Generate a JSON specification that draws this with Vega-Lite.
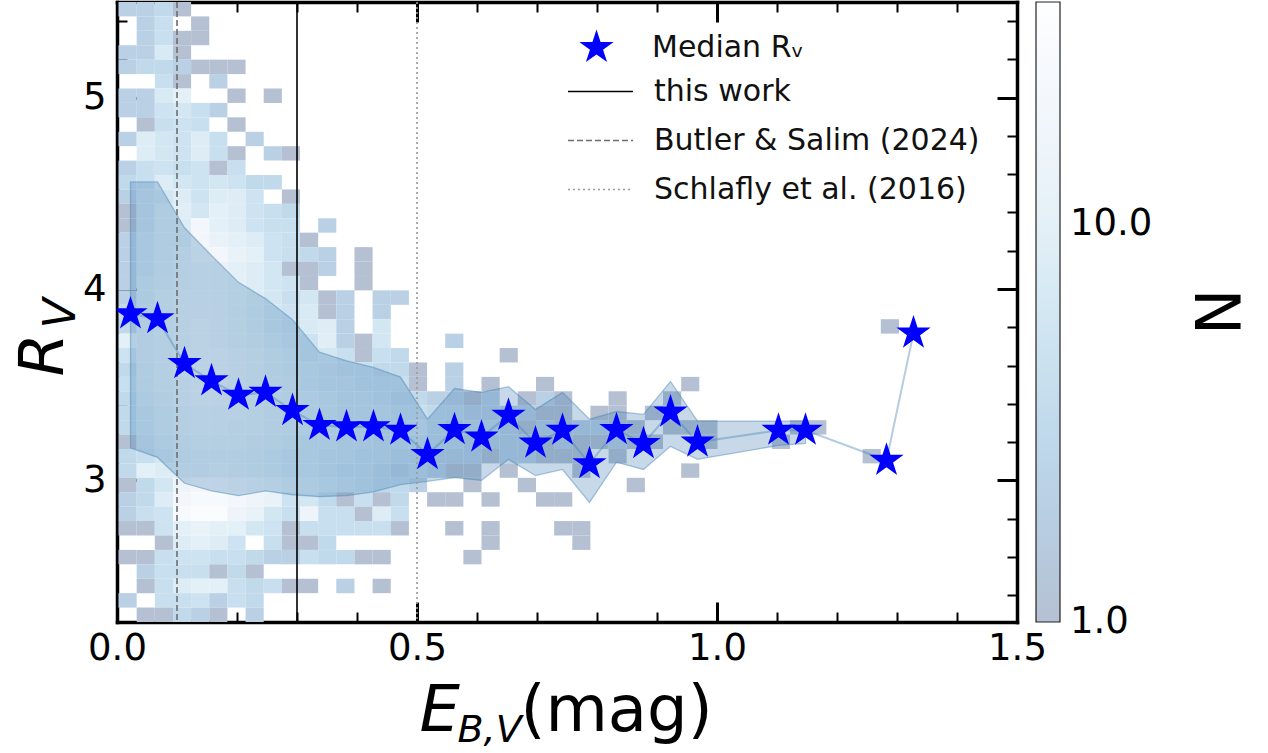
{
  "$schema": "https://vega.github.io/schema/vega-lite/v6.json",
  "background": "white",
  "autosize": {"type": "none"},
  "padding": {"left": 117, "top": 2, "right": 251, "bottom": 131},
  "width": 900,
  "height": 620,
  "config": {
    "font": "DejaVu Sans",
    "view": {"stroke": null},
    "axis": {"labelFont": "DejaVu Sans", "titleFont": "DejaVu Sans", "labelColor": "black", "titleColor": "black", "tickColor": "black", "domainColor": "black", "grid": false, "zindex": 2, "titleFontWeight": "normal"},
    "legend": {"labelFont": "DejaVu Sans", "titleFont": "DejaVu Sans", "labelColor": "#111111", "titleColor": "black"}
  },
  "datasets": {
    "med": [
      {"x": 0.0225, "med": 3.87, "lo": 3.17, "hi": 4.56},
      {"x": 0.0675, "med": 3.845, "lo": 3.12, "hi": 4.56},
      {"x": 0.1125, "med": 3.61, "lo": 2.985, "hi": 4.32},
      {"x": 0.1575, "med": 3.52, "lo": 2.945, "hi": 4.175},
      {"x": 0.2025, "med": 3.445, "lo": 2.92, "hi": 4.035},
      {"x": 0.2475, "med": 3.46, "lo": 2.945, "hi": 3.95},
      {"x": 0.2925, "med": 3.365, "lo": 2.925, "hi": 3.84},
      {"x": 0.3375, "med": 3.287, "lo": 2.915, "hi": 3.67},
      {"x": 0.3825, "med": 3.28, "lo": 2.92, "hi": 3.625},
      {"x": 0.4275, "med": 3.28, "lo": 2.94, "hi": 3.59},
      {"x": 0.4725, "med": 3.262, "lo": 2.978, "hi": 3.54},
      {"x": 0.5175, "med": 3.135, "lo": 2.995, "hi": 3.32},
      {"x": 0.5625, "med": 3.265, "lo": 3.015, "hi": 3.48},
      {"x": 0.6075, "med": 3.226, "lo": 3.0, "hi": 3.46},
      {"x": 0.6525, "med": 3.34, "lo": 3.11, "hi": 3.49},
      {"x": 0.6975, "med": 3.195, "lo": 3.025, "hi": 3.37},
      {"x": 0.7425, "med": 3.262, "lo": 3.057, "hi": 3.46},
      {"x": 0.7875, "med": 3.087, "lo": 2.885, "hi": 3.32},
      {"x": 0.8325, "med": 3.265, "lo": 3.095, "hi": 3.36},
      {"x": 0.8775, "med": 3.192, "lo": 3.057, "hi": 3.345},
      {"x": 0.9225, "med": 3.357, "lo": 3.178, "hi": 3.517},
      {"x": 0.9675, "med": 3.2, "lo": 3.11, "hi": 3.31},
      {"x": 1.1025, "med": 3.262, "lo": 3.183, "hi": 3.31},
      {"x": 1.1475, "med": 3.262, "lo": 3.193, "hi": 3.31},
      {"x": 1.2825, "med": 3.105, "lo": null, "hi": null},
      {"x": 1.3275, "med": 3.77, "lo": null, "hi": null}
    ],
    "cells": [
      {"a":0.0025,"b":0.0328,"c":5.4247,"d":5.5,"n":2},{"a":0.0328,"b":0.063,"c":5.4247,"d":5.5,"n":2},{"a":0.063,"b":0.0933,"c":5.4247,"d":5.5,"n":3},{"a":0.0933,"b":0.1235,"c":5.4247,"d":5.5,"n":1},
      {"a":0.0328,"b":0.063,"c":5.3494,"d":5.4247,"n":2},{"a":0.063,"b":0.0933,"c":5.3494,"d":5.4247,"n":4},{"a":0.1235,"b":0.1538,"c":5.3494,"d":5.4247,"n":1},
      {"a":0.0328,"b":0.063,"c":5.274,"d":5.3494,"n":2},{"a":0.063,"b":0.0933,"c":5.274,"d":5.3494,"n":4},{"a":0.0933,"b":0.1235,"c":5.274,"d":5.3494,"n":1},{"a":0.1235,"b":0.1538,"c":5.274,"d":5.3494,"n":1},
      {"a":0.0025,"b":0.0328,"c":5.1987,"d":5.274,"n":2},{"a":0.0328,"b":0.063,"c":5.1987,"d":5.274,"n":2},{"a":0.063,"b":0.0933,"c":5.1987,"d":5.274,"n":7},{"a":0.0933,"b":0.1235,"c":5.1987,"d":5.274,"n":1},
      {"a":0.0025,"b":0.0328,"c":5.1233,"d":5.1987,"n":2},{"a":0.0328,"b":0.063,"c":5.1233,"d":5.1987,"n":3},{"a":0.063,"b":0.0933,"c":5.1233,"d":5.1987,"n":3},{"a":0.0933,"b":0.1235,"c":5.1233,"d":5.1987,"n":2},{"a":0.1235,"b":0.1538,"c":5.1233,"d":5.1987,"n":1},{"a":0.1538,"b":0.184,"c":5.1233,"d":5.1987,"n":1},{"a":0.184,"b":0.2143,"c":5.1233,"d":5.1987,"n":1},
      {"a":0.063,"b":0.0933,"c":5.048,"d":5.1233,"n":4},{"a":0.0933,"b":0.1235,"c":5.048,"d":5.1233,"n":1},{"a":0.1538,"b":0.184,"c":5.048,"d":5.1233,"n":2},
      {"a":0.0025,"b":0.0328,"c":4.9726,"d":5.048,"n":2},{"a":0.0328,"b":0.063,"c":4.9726,"d":5.048,"n":2},{"a":0.063,"b":0.0933,"c":4.9726,"d":5.048,"n":7},{"a":0.0933,"b":0.1235,"c":4.9726,"d":5.048,"n":10},{"a":0.184,"b":0.2143,"c":4.9726,"d":5.048,"n":1},{"a":0.2445,"b":0.2748,"c":4.9726,"d":5.048,"n":1},
      {"a":0.0025,"b":0.0328,"c":4.8973,"d":4.9726,"n":2},{"a":0.0328,"b":0.063,"c":4.8973,"d":4.9726,"n":2},{"a":0.063,"b":0.0933,"c":4.8973,"d":4.9726,"n":5},{"a":0.0933,"b":0.1235,"c":4.8973,"d":4.9726,"n":6},{"a":0.1235,"b":0.1538,"c":4.8973,"d":4.9726,"n":4},{"a":0.1538,"b":0.184,"c":4.8973,"d":4.9726,"n":2},
      {"a":0.0328,"b":0.063,"c":4.8219,"d":4.8973,"n":1},{"a":0.063,"b":0.0933,"c":4.8219,"d":4.8973,"n":4},{"a":0.0933,"b":0.1235,"c":4.8219,"d":4.8973,"n":5},{"a":0.1235,"b":0.1538,"c":4.8219,"d":4.8973,"n":4},{"a":0.184,"b":0.2143,"c":4.8219,"d":4.8973,"n":1},
      {"a":0.0025,"b":0.0328,"c":4.7466,"d":4.8219,"n":2},{"a":0.0328,"b":0.063,"c":4.7466,"d":4.8219,"n":8},{"a":0.063,"b":0.0933,"c":4.7466,"d":4.8219,"n":6},{"a":0.0933,"b":0.1235,"c":4.7466,"d":4.8219,"n":5},{"a":0.1235,"b":0.1538,"c":4.7466,"d":4.8219,"n":8},{"a":0.1538,"b":0.184,"c":4.7466,"d":4.8219,"n":4},{"a":0.2143,"b":0.2445,"c":4.7466,"d":4.8219,"n":2},
      {"a":0.0328,"b":0.063,"c":4.6712,"d":4.7466,"n":8},{"a":0.063,"b":0.0933,"c":4.6712,"d":4.7466,"n":6},{"a":0.0933,"b":0.1235,"c":4.6712,"d":4.7466,"n":5},{"a":0.1235,"b":0.1538,"c":4.6712,"d":4.7466,"n":8},{"a":0.1538,"b":0.184,"c":4.6712,"d":4.7466,"n":4},{"a":0.184,"b":0.2143,"c":4.6712,"d":4.7466,"n":1},{"a":0.2445,"b":0.2748,"c":4.6712,"d":4.7466,"n":2},{"a":0.2748,"b":0.305,"c":4.6712,"d":4.7466,"n":1},
      {"a":0.0025,"b":0.0328,"c":4.5959,"d":4.6712,"n":2},{"a":0.0328,"b":0.063,"c":4.5959,"d":4.6712,"n":4},{"a":0.063,"b":0.0933,"c":4.5959,"d":4.6712,"n":5},{"a":0.0933,"b":0.1235,"c":4.5959,"d":4.6712,"n":4},{"a":0.1235,"b":0.1538,"c":4.5959,"d":4.6712,"n":5},{"a":0.1538,"b":0.184,"c":4.5959,"d":4.6712,"n":1},{"a":0.184,"b":0.2143,"c":4.5959,"d":4.6712,"n":4},
      {"a":0.0025,"b":0.0328,"c":4.5205,"d":4.5959,"n":3},{"a":0.0328,"b":0.063,"c":4.5205,"d":4.5959,"n":4},{"a":0.063,"b":0.0933,"c":4.5205,"d":4.5959,"n":8},{"a":0.0933,"b":0.1235,"c":4.5205,"d":4.5959,"n":6},{"a":0.1235,"b":0.1538,"c":4.5205,"d":4.5959,"n":5},{"a":0.1538,"b":0.184,"c":4.5205,"d":4.5959,"n":6},{"a":0.184,"b":0.2143,"c":4.5205,"d":4.5959,"n":5},{"a":0.2143,"b":0.2445,"c":4.5205,"d":4.5959,"n":3},{"a":0.2445,"b":0.2748,"c":4.5205,"d":4.5959,"n":3},
      {"a":0.0025,"b":0.0328,"c":4.4452,"d":4.5205,"n":2},{"a":0.0328,"b":0.063,"c":4.4452,"d":4.5205,"n":5},{"a":0.063,"b":0.0933,"c":4.4452,"d":4.5205,"n":6},{"a":0.0933,"b":0.1235,"c":4.4452,"d":4.5205,"n":8},{"a":0.1235,"b":0.1538,"c":4.4452,"d":4.5205,"n":5},{"a":0.1538,"b":0.184,"c":4.4452,"d":4.5205,"n":8},{"a":0.184,"b":0.2143,"c":4.4452,"d":4.5205,"n":8},{"a":0.2143,"b":0.2445,"c":4.4452,"d":4.5205,"n":5},{"a":0.2748,"b":0.305,"c":4.4452,"d":4.5205,"n":1},
      {"a":0.0025,"b":0.0328,"c":4.3698,"d":4.4452,"n":1},{"a":0.0328,"b":0.063,"c":4.3698,"d":4.4452,"n":5},{"a":0.063,"b":0.0933,"c":4.3698,"d":4.4452,"n":8},{"a":0.0933,"b":0.1235,"c":4.3698,"d":4.4452,"n":9},{"a":0.1235,"b":0.1538,"c":4.3698,"d":4.4452,"n":6},{"a":0.1538,"b":0.184,"c":4.3698,"d":4.4452,"n":10},{"a":0.184,"b":0.2143,"c":4.3698,"d":4.4452,"n":8},{"a":0.2143,"b":0.2445,"c":4.3698,"d":4.4452,"n":5},{"a":0.2445,"b":0.2748,"c":4.3698,"d":4.4452,"n":4},{"a":0.2748,"b":0.305,"c":4.3698,"d":4.4452,"n":3},
      {"a":0.0025,"b":0.0328,"c":4.2945,"d":4.3698,"n":1},{"a":0.0328,"b":0.063,"c":4.2945,"d":4.3698,"n":5},{"a":0.063,"b":0.0933,"c":4.2945,"d":4.3698,"n":8},{"a":0.0933,"b":0.1235,"c":4.2945,"d":4.3698,"n":8},{"a":0.1235,"b":0.1538,"c":4.2945,"d":4.3698,"n":20},{"a":0.1538,"b":0.184,"c":4.2945,"d":4.3698,"n":10},{"a":0.184,"b":0.2143,"c":4.2945,"d":4.3698,"n":8},{"a":0.2143,"b":0.2445,"c":4.2945,"d":4.3698,"n":5},{"a":0.2445,"b":0.2748,"c":4.2945,"d":4.3698,"n":4},{"a":0.2748,"b":0.305,"c":4.2945,"d":4.3698,"n":4},{"a":0.3353,"b":0.3655,"c":4.2945,"d":4.3698,"n":2},
      {"a":0.0025,"b":0.0328,"c":4.2191,"d":4.2945,"n":2},{"a":0.0328,"b":0.063,"c":4.2191,"d":4.2945,"n":6},{"a":0.063,"b":0.0933,"c":4.2191,"d":4.2945,"n":8},{"a":0.0933,"b":0.1235,"c":4.2191,"d":4.2945,"n":8},{"a":0.1235,"b":0.1538,"c":4.2191,"d":4.2945,"n":20},{"a":0.1538,"b":0.184,"c":4.2191,"d":4.2945,"n":12},{"a":0.184,"b":0.2143,"c":4.2191,"d":4.2945,"n":10},{"a":0.2143,"b":0.2445,"c":4.2191,"d":4.2945,"n":8},{"a":0.2445,"b":0.2748,"c":4.2191,"d":4.2945,"n":5},{"a":0.2748,"b":0.305,"c":4.2191,"d":4.2945,"n":4},{"a":0.305,"b":0.3353,"c":4.2191,"d":4.2945,"n":1},
      {"a":0.0025,"b":0.0328,"c":4.1438,"d":4.2191,"n":2},{"a":0.0328,"b":0.063,"c":4.1438,"d":4.2191,"n":6},{"a":0.063,"b":0.0933,"c":4.1438,"d":4.2191,"n":8},{"a":0.0933,"b":0.1235,"c":4.1438,"d":4.2191,"n":10},{"a":0.1235,"b":0.1538,"c":4.1438,"d":4.2191,"n":15},{"a":0.1538,"b":0.184,"c":4.1438,"d":4.2191,"n":20},{"a":0.184,"b":0.2143,"c":4.1438,"d":4.2191,"n":12},{"a":0.2143,"b":0.2445,"c":4.1438,"d":4.2191,"n":10},{"a":0.2445,"b":0.2748,"c":4.1438,"d":4.2191,"n":5},{"a":0.2748,"b":0.305,"c":4.1438,"d":4.2191,"n":4},{"a":0.305,"b":0.3353,"c":4.1438,"d":4.2191,"n":3},{"a":0.3353,"b":0.3655,"c":4.1438,"d":4.2191,"n":2},{"a":0.3958,"b":0.426,"c":4.1438,"d":4.2191,"n":1},
      {"a":0.0025,"b":0.0328,"c":4.0684,"d":4.1438,"n":2},{"a":0.0328,"b":0.063,"c":4.0684,"d":4.1438,"n":6},{"a":0.063,"b":0.0933,"c":4.0684,"d":4.1438,"n":8},{"a":0.0933,"b":0.1235,"c":4.0684,"d":4.1438,"n":10},{"a":0.1235,"b":0.1538,"c":4.0684,"d":4.1438,"n":12},{"a":0.1538,"b":0.184,"c":4.0684,"d":4.1438,"n":12},{"a":0.184,"b":0.2143,"c":4.0684,"d":4.1438,"n":10},{"a":0.2143,"b":0.2445,"c":4.0684,"d":4.1438,"n":8},{"a":0.2445,"b":0.2748,"c":4.0684,"d":4.1438,"n":6},{"a":0.2748,"b":0.305,"c":4.0684,"d":4.1438,"n":1},{"a":0.305,"b":0.3353,"c":4.0684,"d":4.1438,"n":1},{"a":0.3353,"b":0.3655,"c":4.0684,"d":4.1438,"n":2},{"a":0.3958,"b":0.426,"c":4.0684,"d":4.1438,"n":1},
      {"a":0.0025,"b":0.0328,"c":3.9931,"d":4.0684,"n":2},{"a":0.0328,"b":0.063,"c":3.9931,"d":4.0684,"n":7},{"a":0.063,"b":0.0933,"c":3.9931,"d":4.0684,"n":9},{"a":0.0933,"b":0.1235,"c":3.9931,"d":4.0684,"n":10},{"a":0.1235,"b":0.1538,"c":3.9931,"d":4.0684,"n":12},{"a":0.1538,"b":0.184,"c":3.9931,"d":4.0684,"n":12},{"a":0.184,"b":0.2143,"c":3.9931,"d":4.0684,"n":10},{"a":0.2143,"b":0.2445,"c":3.9931,"d":4.0684,"n":8},{"a":0.2445,"b":0.2748,"c":3.9931,"d":4.0684,"n":6},{"a":0.2748,"b":0.305,"c":3.9931,"d":4.0684,"n":5},{"a":0.305,"b":0.3353,"c":3.9931,"d":4.0684,"n":1},{"a":0.3958,"b":0.426,"c":3.9931,"d":4.0684,"n":1},
      {"a":0.0025,"b":0.0328,"c":3.9177,"d":3.9931,"n":2},{"a":0.0328,"b":0.063,"c":3.9177,"d":3.9931,"n":7},{"a":0.063,"b":0.0933,"c":3.9177,"d":3.9931,"n":10},{"a":0.0933,"b":0.1235,"c":3.9177,"d":3.9931,"n":12},{"a":0.1235,"b":0.1538,"c":3.9177,"d":3.9931,"n":12},{"a":0.1538,"b":0.184,"c":3.9177,"d":3.9931,"n":12},{"a":0.184,"b":0.2143,"c":3.9177,"d":3.9931,"n":10},{"a":0.2143,"b":0.2445,"c":3.9177,"d":3.9931,"n":8},{"a":0.2445,"b":0.2748,"c":3.9177,"d":3.9931,"n":6},{"a":0.2748,"b":0.305,"c":3.9177,"d":3.9931,"n":4},{"a":0.305,"b":0.3353,"c":3.9177,"d":3.9931,"n":6},{"a":0.3353,"b":0.3655,"c":3.9177,"d":3.9931,"n":1},{"a":0.3655,"b":0.3958,"c":3.9177,"d":3.9931,"n":2},{"a":0.426,"b":0.4563,"c":3.9177,"d":3.9931,"n":2},{"a":0.4563,"b":0.4865,"c":3.9177,"d":3.9931,"n":2},
      {"a":0.0025,"b":0.0328,"c":3.8424,"d":3.9177,"n":3},{"a":0.0328,"b":0.063,"c":3.8424,"d":3.9177,"n":8},{"a":0.063,"b":0.0933,"c":3.8424,"d":3.9177,"n":10},{"a":0.0933,"b":0.1235,"c":3.8424,"d":3.9177,"n":12},{"a":0.1235,"b":0.1538,"c":3.8424,"d":3.9177,"n":12},{"a":0.1538,"b":0.184,"c":3.8424,"d":3.9177,"n":12},{"a":0.184,"b":0.2143,"c":3.8424,"d":3.9177,"n":10},{"a":0.2143,"b":0.2445,"c":3.8424,"d":3.9177,"n":8},{"a":0.2445,"b":0.2748,"c":3.8424,"d":3.9177,"n":6},{"a":0.2748,"b":0.305,"c":3.8424,"d":3.9177,"n":5},{"a":0.305,"b":0.3353,"c":3.8424,"d":3.9177,"n":7},{"a":0.3353,"b":0.3655,"c":3.8424,"d":3.9177,"n":1},{"a":0.3655,"b":0.3958,"c":3.8424,"d":3.9177,"n":2},{"a":0.426,"b":0.4563,"c":3.8424,"d":3.9177,"n":2},
      {"a":0.0025,"b":0.0328,"c":3.767,"d":3.8424,"n":3},{"a":0.0328,"b":0.063,"c":3.767,"d":3.8424,"n":8},{"a":0.063,"b":0.0933,"c":3.767,"d":3.8424,"n":10},{"a":0.0933,"b":0.1235,"c":3.767,"d":3.8424,"n":12},{"a":0.1235,"b":0.1538,"c":3.767,"d":3.8424,"n":15},{"a":0.1538,"b":0.184,"c":3.767,"d":3.8424,"n":12},{"a":0.184,"b":0.2143,"c":3.767,"d":3.8424,"n":10},{"a":0.2143,"b":0.2445,"c":3.767,"d":3.8424,"n":8},{"a":0.2445,"b":0.2748,"c":3.767,"d":3.8424,"n":6},{"a":0.2748,"b":0.305,"c":3.767,"d":3.8424,"n":5},{"a":0.305,"b":0.3353,"c":3.767,"d":3.8424,"n":7},{"a":0.3353,"b":0.3655,"c":3.767,"d":3.8424,"n":8},{"a":0.3655,"b":0.3958,"c":3.767,"d":3.8424,"n":2},{"a":0.426,"b":0.4563,"c":3.767,"d":3.8424,"n":6},
      {"a":0.0025,"b":0.0328,"c":3.6917,"d":3.767,"n":10},{"a":0.0328,"b":0.063,"c":3.6917,"d":3.767,"n":9},{"a":0.063,"b":0.0933,"c":3.6917,"d":3.767,"n":10},{"a":0.0933,"b":0.1235,"c":3.6917,"d":3.767,"n":12},{"a":0.1235,"b":0.1538,"c":3.6917,"d":3.767,"n":15},{"a":0.1538,"b":0.184,"c":3.6917,"d":3.767,"n":12},{"a":0.184,"b":0.2143,"c":3.6917,"d":3.767,"n":10},{"a":0.2143,"b":0.2445,"c":3.6917,"d":3.767,"n":9},{"a":0.2445,"b":0.2748,"c":3.6917,"d":3.767,"n":7},{"a":0.2748,"b":0.305,"c":3.6917,"d":3.767,"n":6},{"a":0.305,"b":0.3353,"c":3.6917,"d":3.767,"n":5},{"a":0.3353,"b":0.3655,"c":3.6917,"d":3.767,"n":9},{"a":0.3655,"b":0.3958,"c":3.6917,"d":3.767,"n":2},{"a":0.3958,"b":0.426,"c":3.6917,"d":3.767,"n":1},{"a":0.426,"b":0.4563,"c":3.6917,"d":3.767,"n":6},{"a":0.547,"b":0.5773,"c":3.6917,"d":3.767,"n":2},
      {"a":0.0025,"b":0.0328,"c":3.6163,"d":3.6917,"n":5},{"a":0.0328,"b":0.063,"c":3.6163,"d":3.6917,"n":9},{"a":0.063,"b":0.0933,"c":3.6163,"d":3.6917,"n":10},{"a":0.0933,"b":0.1235,"c":3.6163,"d":3.6917,"n":15},{"a":0.1235,"b":0.1538,"c":3.6163,"d":3.6917,"n":15},{"a":0.1538,"b":0.184,"c":3.6163,"d":3.6917,"n":15},{"a":0.184,"b":0.2143,"c":3.6163,"d":3.6917,"n":12},{"a":0.2143,"b":0.2445,"c":3.6163,"d":3.6917,"n":10},{"a":0.2445,"b":0.2748,"c":3.6163,"d":3.6917,"n":8},{"a":0.2748,"b":0.305,"c":3.6163,"d":3.6917,"n":7},{"a":0.305,"b":0.3353,"c":3.6163,"d":3.6917,"n":5},{"a":0.3353,"b":0.3655,"c":3.6163,"d":3.6917,"n":6},{"a":0.3655,"b":0.3958,"c":3.6163,"d":3.6917,"n":4},{"a":0.3958,"b":0.426,"c":3.6163,"d":3.6917,"n":1},{"a":0.426,"b":0.4563,"c":3.6163,"d":3.6917,"n":4},{"a":0.4563,"b":0.4865,"c":3.6163,"d":3.6917,"n":3},{"a":0.6378,"b":0.668,"c":3.6163,"d":3.6917,"n":1},
      {"a":0.0025,"b":0.0328,"c":3.541,"d":3.6163,"n":3},{"a":0.0328,"b":0.063,"c":3.541,"d":3.6163,"n":8},{"a":0.063,"b":0.0933,"c":3.541,"d":3.6163,"n":10},{"a":0.0933,"b":0.1235,"c":3.541,"d":3.6163,"n":15},{"a":0.1235,"b":0.1538,"c":3.541,"d":3.6163,"n":15},{"a":0.1538,"b":0.184,"c":3.541,"d":3.6163,"n":15},{"a":0.184,"b":0.2143,"c":3.541,"d":3.6163,"n":12},{"a":0.2143,"b":0.2445,"c":3.541,"d":3.6163,"n":10},{"a":0.2445,"b":0.2748,"c":3.541,"d":3.6163,"n":8},{"a":0.2748,"b":0.305,"c":3.541,"d":3.6163,"n":7},{"a":0.305,"b":0.3353,"c":3.541,"d":3.6163,"n":6},{"a":0.3353,"b":0.3655,"c":3.541,"d":3.6163,"n":5},{"a":0.3655,"b":0.3958,"c":3.541,"d":3.6163,"n":4},{"a":0.3958,"b":0.426,"c":3.541,"d":3.6163,"n":4},{"a":0.426,"b":0.4563,"c":3.541,"d":3.6163,"n":3},{"a":0.4563,"b":0.4865,"c":3.541,"d":3.6163,"n":3},{"a":0.4865,"b":0.5168,"c":3.541,"d":3.6163,"n":1},{"a":0.547,"b":0.5773,"c":3.541,"d":3.6163,"n":2},
      {"a":0.0025,"b":0.0328,"c":3.4656,"d":3.541,"n":4},{"a":0.0328,"b":0.063,"c":3.4656,"d":3.541,"n":8},{"a":0.063,"b":0.0933,"c":3.4656,"d":3.541,"n":10},{"a":0.0933,"b":0.1235,"c":3.4656,"d":3.541,"n":12},{"a":0.1235,"b":0.1538,"c":3.4656,"d":3.541,"n":15},{"a":0.1538,"b":0.184,"c":3.4656,"d":3.541,"n":15},{"a":0.184,"b":0.2143,"c":3.4656,"d":3.541,"n":12},{"a":0.2143,"b":0.2445,"c":3.4656,"d":3.541,"n":10},{"a":0.2445,"b":0.2748,"c":3.4656,"d":3.541,"n":9},{"a":0.2748,"b":0.305,"c":3.4656,"d":3.541,"n":8},{"a":0.305,"b":0.3353,"c":3.4656,"d":3.541,"n":6},{"a":0.3353,"b":0.3655,"c":3.4656,"d":3.541,"n":5},{"a":0.3655,"b":0.3958,"c":3.4656,"d":3.541,"n":5},{"a":0.3958,"b":0.426,"c":3.4656,"d":3.541,"n":4},{"a":0.426,"b":0.4563,"c":3.4656,"d":3.541,"n":4},{"a":0.4563,"b":0.4865,"c":3.4656,"d":3.541,"n":4},{"a":0.4865,"b":0.5168,"c":3.4656,"d":3.541,"n":1},{"a":0.547,"b":0.5773,"c":3.4656,"d":3.541,"n":2},{"a":0.6075,"b":0.6378,"c":3.4656,"d":3.541,"n":1},{"a":0.6983,"b":0.7285,"c":3.4656,"d":3.541,"n":1},{"a":0.9403,"b":0.9705,"c":3.4656,"d":3.541,"n":1},
      {"a":0.0025,"b":0.0328,"c":3.3903,"d":3.4656,"n":3},{"a":0.0328,"b":0.063,"c":3.3903,"d":3.4656,"n":7},{"a":0.063,"b":0.0933,"c":3.3903,"d":3.4656,"n":9},{"a":0.0933,"b":0.1235,"c":3.3903,"d":3.4656,"n":12},{"a":0.1235,"b":0.1538,"c":3.3903,"d":3.4656,"n":15},{"a":0.1538,"b":0.184,"c":3.3903,"d":3.4656,"n":15},{"a":0.184,"b":0.2143,"c":3.3903,"d":3.4656,"n":12},{"a":0.2143,"b":0.2445,"c":3.3903,"d":3.4656,"n":10},{"a":0.2445,"b":0.2748,"c":3.3903,"d":3.4656,"n":9},{"a":0.2748,"b":0.305,"c":3.3903,"d":3.4656,"n":8},{"a":0.305,"b":0.3353,"c":3.3903,"d":3.4656,"n":7},{"a":0.3353,"b":0.3655,"c":3.3903,"d":3.4656,"n":6},{"a":0.3655,"b":0.3958,"c":3.3903,"d":3.4656,"n":5},{"a":0.3958,"b":0.426,"c":3.3903,"d":3.4656,"n":5},{"a":0.426,"b":0.4563,"c":3.3903,"d":3.4656,"n":4},{"a":0.4563,"b":0.4865,"c":3.3903,"d":3.4656,"n":3},{"a":0.4865,"b":0.5168,"c":3.3903,"d":3.4656,"n":3},{"a":0.5168,"b":0.547,"c":3.3903,"d":3.4656,"n":2},{"a":0.547,"b":0.5773,"c":3.3903,"d":3.4656,"n":2},{"a":0.5773,"b":0.6075,"c":3.3903,"d":3.4656,"n":1},{"a":0.6075,"b":0.6378,"c":3.3903,"d":3.4656,"n":2},{"a":0.668,"b":0.6983,"c":3.3903,"d":3.4656,"n":1},{"a":0.6983,"b":0.7285,"c":3.3903,"d":3.4656,"n":2},{"a":0.7285,"b":0.7588,"c":3.3903,"d":3.4656,"n":1},{"a":0.8193,"b":0.8495,"c":3.3903,"d":3.4656,"n":1},{"a":0.91,"b":0.9403,"c":3.3903,"d":3.4656,"n":1},
      {"a":0.0025,"b":0.0328,"c":3.3149,"d":3.3903,"n":3},{"a":0.0328,"b":0.063,"c":3.3149,"d":3.3903,"n":6},{"a":0.063,"b":0.0933,"c":3.3149,"d":3.3903,"n":8},{"a":0.0933,"b":0.1235,"c":3.3149,"d":3.3903,"n":10},{"a":0.1235,"b":0.1538,"c":3.3149,"d":3.3903,"n":12},{"a":0.1538,"b":0.184,"c":3.3149,"d":3.3903,"n":12},{"a":0.184,"b":0.2143,"c":3.3149,"d":3.3903,"n":12},{"a":0.2143,"b":0.2445,"c":3.3149,"d":3.3903,"n":10},{"a":0.2445,"b":0.2748,"c":3.3149,"d":3.3903,"n":9},{"a":0.2748,"b":0.305,"c":3.3149,"d":3.3903,"n":8},{"a":0.305,"b":0.3353,"c":3.3149,"d":3.3903,"n":7},{"a":0.3353,"b":0.3655,"c":3.3149,"d":3.3903,"n":6},{"a":0.3655,"b":0.3958,"c":3.3149,"d":3.3903,"n":5},{"a":0.3958,"b":0.426,"c":3.3149,"d":3.3903,"n":5},{"a":0.426,"b":0.4563,"c":3.3149,"d":3.3903,"n":5},{"a":0.4563,"b":0.4865,"c":3.3149,"d":3.3903,"n":4},{"a":0.4865,"b":0.5168,"c":3.3149,"d":3.3903,"n":4},{"a":0.5168,"b":0.547,"c":3.3149,"d":3.3903,"n":3},{"a":0.547,"b":0.5773,"c":3.3149,"d":3.3903,"n":3},{"a":0.5773,"b":0.6075,"c":3.3149,"d":3.3903,"n":2},{"a":0.6075,"b":0.6378,"c":3.3149,"d":3.3903,"n":2},{"a":0.6378,"b":0.668,"c":3.3149,"d":3.3903,"n":2},{"a":0.668,"b":0.6983,"c":3.3149,"d":3.3903,"n":2},{"a":0.6983,"b":0.7285,"c":3.3149,"d":3.3903,"n":1},{"a":0.7285,"b":0.7588,"c":3.3149,"d":3.3903,"n":1},{"a":0.789,"b":0.8193,"c":3.3149,"d":3.3903,"n":1},{"a":0.8193,"b":0.8495,"c":3.3149,"d":3.3903,"n":1},{"a":0.8798,"b":0.91,"c":3.3149,"d":3.3903,"n":1},
      {"a":0.0025,"b":0.0328,"c":3.2396,"d":3.3149,"n":3},{"a":0.0328,"b":0.063,"c":3.2396,"d":3.3149,"n":6},{"a":0.063,"b":0.0933,"c":3.2396,"d":3.3149,"n":8},{"a":0.0933,"b":0.1235,"c":3.2396,"d":3.3149,"n":10},{"a":0.1235,"b":0.1538,"c":3.2396,"d":3.3149,"n":12},{"a":0.1538,"b":0.184,"c":3.2396,"d":3.3149,"n":12},{"a":0.184,"b":0.2143,"c":3.2396,"d":3.3149,"n":10},{"a":0.2143,"b":0.2445,"c":3.2396,"d":3.3149,"n":10},{"a":0.2445,"b":0.2748,"c":3.2396,"d":3.3149,"n":9},{"a":0.2748,"b":0.305,"c":3.2396,"d":3.3149,"n":8},{"a":0.305,"b":0.3353,"c":3.2396,"d":3.3149,"n":7},{"a":0.3353,"b":0.3655,"c":3.2396,"d":3.3149,"n":6},{"a":0.3655,"b":0.3958,"c":3.2396,"d":3.3149,"n":6},{"a":0.3958,"b":0.426,"c":3.2396,"d":3.3149,"n":5},{"a":0.426,"b":0.4563,"c":3.2396,"d":3.3149,"n":4},{"a":0.4563,"b":0.4865,"c":3.2396,"d":3.3149,"n":4},{"a":0.4865,"b":0.5168,"c":3.2396,"d":3.3149,"n":5},{"a":0.5168,"b":0.547,"c":3.2396,"d":3.3149,"n":3},{"a":0.547,"b":0.5773,"c":3.2396,"d":3.3149,"n":2},{"a":0.5773,"b":0.6075,"c":3.2396,"d":3.3149,"n":3},{"a":0.6075,"b":0.6378,"c":3.2396,"d":3.3149,"n":3},{"a":0.6378,"b":0.668,"c":3.2396,"d":3.3149,"n":2},{"a":0.668,"b":0.6983,"c":3.2396,"d":3.3149,"n":1},{"a":0.6983,"b":0.7285,"c":3.2396,"d":3.3149,"n":2},{"a":0.7285,"b":0.7588,"c":3.2396,"d":3.3149,"n":1},{"a":0.7588,"b":0.789,"c":3.2396,"d":3.3149,"n":2},{"a":0.789,"b":0.8193,"c":3.2396,"d":3.3149,"n":2},{"a":0.8193,"b":0.8495,"c":3.2396,"d":3.3149,"n":1},{"a":0.8495,"b":0.8798,"c":3.2396,"d":3.3149,"n":1},{"a":0.91,"b":0.9403,"c":3.2396,"d":3.3149,"n":1},{"a":0.9403,"b":0.9705,"c":3.2396,"d":3.3149,"n":1},{"a":0.9705,"b":1.0008,"c":3.2396,"d":3.3149,"n":1},{"a":1.1218,"b":1.152,"c":3.2396,"d":3.3149,"n":1},{"a":1.152,"b":1.1823,"c":3.2396,"d":3.3149,"n":1},
      {"a":0.0025,"b":0.0328,"c":3.1642,"d":3.2396,"n":1},{"a":0.0328,"b":0.063,"c":3.1642,"d":3.2396,"n":5},{"a":0.063,"b":0.0933,"c":3.1642,"d":3.2396,"n":7},{"a":0.0933,"b":0.1235,"c":3.1642,"d":3.2396,"n":9},{"a":0.1235,"b":0.1538,"c":3.1642,"d":3.2396,"n":10},{"a":0.1538,"b":0.184,"c":3.1642,"d":3.2396,"n":10},{"a":0.184,"b":0.2143,"c":3.1642,"d":3.2396,"n":10},{"a":0.2143,"b":0.2445,"c":3.1642,"d":3.2396,"n":9},{"a":0.2445,"b":0.2748,"c":3.1642,"d":3.2396,"n":8},{"a":0.2748,"b":0.305,"c":3.1642,"d":3.2396,"n":7},{"a":0.305,"b":0.3353,"c":3.1642,"d":3.2396,"n":6},{"a":0.3353,"b":0.3655,"c":3.1642,"d":3.2396,"n":6},{"a":0.3655,"b":0.3958,"c":3.1642,"d":3.2396,"n":5},{"a":0.3958,"b":0.426,"c":3.1642,"d":3.2396,"n":5},{"a":0.426,"b":0.4563,"c":3.1642,"d":3.2396,"n":4},{"a":0.4563,"b":0.4865,"c":3.1642,"d":3.2396,"n":4},{"a":0.4865,"b":0.5168,"c":3.1642,"d":3.2396,"n":4},{"a":0.5168,"b":0.547,"c":3.1642,"d":3.2396,"n":3},{"a":0.547,"b":0.5773,"c":3.1642,"d":3.2396,"n":3},{"a":0.5773,"b":0.6075,"c":3.1642,"d":3.2396,"n":2},{"a":0.6075,"b":0.6378,"c":3.1642,"d":3.2396,"n":2},{"a":0.6378,"b":0.668,"c":3.1642,"d":3.2396,"n":2},{"a":0.668,"b":0.6983,"c":3.1642,"d":3.2396,"n":2},{"a":0.6983,"b":0.7285,"c":3.1642,"d":3.2396,"n":1},{"a":0.7285,"b":0.7588,"c":3.1642,"d":3.2396,"n":2},{"a":0.7588,"b":0.789,"c":3.1642,"d":3.2396,"n":1},{"a":0.789,"b":0.8193,"c":3.1642,"d":3.2396,"n":1},{"a":0.8193,"b":0.8495,"c":3.1642,"d":3.2396,"n":2},{"a":0.8495,"b":0.8798,"c":3.1642,"d":3.2396,"n":1},{"a":0.8798,"b":0.91,"c":3.1642,"d":3.2396,"n":1},{"a":0.9705,"b":1.0008,"c":3.1642,"d":3.2396,"n":1},{"a":1.0915,"b":1.1218,"c":3.1642,"d":3.2396,"n":1},
      {"a":0.0025,"b":0.0328,"c":3.0889,"d":3.1642,"n":3},{"a":0.0328,"b":0.063,"c":3.0889,"d":3.1642,"n":4},{"a":0.063,"b":0.0933,"c":3.0889,"d":3.1642,"n":6},{"a":0.0933,"b":0.1235,"c":3.0889,"d":3.1642,"n":8},{"a":0.1235,"b":0.1538,"c":3.0889,"d":3.1642,"n":9},{"a":0.1538,"b":0.184,"c":3.0889,"d":3.1642,"n":9},{"a":0.184,"b":0.2143,"c":3.0889,"d":3.1642,"n":9},{"a":0.2143,"b":0.2445,"c":3.0889,"d":3.1642,"n":8},{"a":0.2445,"b":0.2748,"c":3.0889,"d":3.1642,"n":7},{"a":0.2748,"b":0.305,"c":3.0889,"d":3.1642,"n":6},{"a":0.305,"b":0.3353,"c":3.0889,"d":3.1642,"n":6},{"a":0.3353,"b":0.3655,"c":3.0889,"d":3.1642,"n":5},{"a":0.3655,"b":0.3958,"c":3.0889,"d":3.1642,"n":5},{"a":0.3958,"b":0.426,"c":3.0889,"d":3.1642,"n":4},{"a":0.426,"b":0.4563,"c":3.0889,"d":3.1642,"n":4},{"a":0.4563,"b":0.4865,"c":3.0889,"d":3.1642,"n":3},{"a":0.4865,"b":0.5168,"c":3.0889,"d":3.1642,"n":3},{"a":0.5168,"b":0.547,"c":3.0889,"d":3.1642,"n":2},{"a":0.547,"b":0.5773,"c":3.0889,"d":3.1642,"n":2},{"a":0.5773,"b":0.6075,"c":3.0889,"d":3.1642,"n":2},{"a":0.6075,"b":0.6378,"c":3.0889,"d":3.1642,"n":1},{"a":0.6378,"b":0.668,"c":3.0889,"d":3.1642,"n":2},{"a":0.668,"b":0.6983,"c":3.0889,"d":3.1642,"n":2},{"a":0.6983,"b":0.7285,"c":3.0889,"d":3.1642,"n":1},{"a":0.7285,"b":0.7588,"c":3.0889,"d":3.1642,"n":1},{"a":0.7588,"b":0.789,"c":3.0889,"d":3.1642,"n":1},{"a":0.8193,"b":0.8495,"c":3.0889,"d":3.1642,"n":1},{"a":1.2428,"b":1.273,"c":3.0889,"d":3.1642,"n":1},
      {"a":0.0025,"b":0.0328,"c":3.0135,"d":3.0889,"n":3},{"a":0.0328,"b":0.063,"c":3.0135,"d":3.0889,"n":10},{"a":0.063,"b":0.0933,"c":3.0135,"d":3.0889,"n":8},{"a":0.0933,"b":0.1235,"c":3.0135,"d":3.0889,"n":9},{"a":0.1235,"b":0.1538,"c":3.0135,"d":3.0889,"n":9},{"a":0.1538,"b":0.184,"c":3.0135,"d":3.0889,"n":10},{"a":0.184,"b":0.2143,"c":3.0135,"d":3.0889,"n":9},{"a":0.2143,"b":0.2445,"c":3.0135,"d":3.0889,"n":8},{"a":0.2445,"b":0.2748,"c":3.0135,"d":3.0889,"n":7},{"a":0.2748,"b":0.305,"c":3.0135,"d":3.0889,"n":6},{"a":0.305,"b":0.3353,"c":3.0135,"d":3.0889,"n":6},{"a":0.3353,"b":0.3655,"c":3.0135,"d":3.0889,"n":5},{"a":0.3655,"b":0.3958,"c":3.0135,"d":3.0889,"n":4},{"a":0.3958,"b":0.426,"c":3.0135,"d":3.0889,"n":4},{"a":0.426,"b":0.4563,"c":3.0135,"d":3.0889,"n":3},{"a":0.4563,"b":0.4865,"c":3.0135,"d":3.0889,"n":2},{"a":0.4865,"b":0.5168,"c":3.0135,"d":3.0889,"n":3},{"a":0.5168,"b":0.547,"c":3.0135,"d":3.0889,"n":2},{"a":0.547,"b":0.5773,"c":3.0135,"d":3.0889,"n":1},{"a":0.5773,"b":0.6075,"c":3.0135,"d":3.0889,"n":1},{"a":0.6378,"b":0.668,"c":3.0135,"d":3.0889,"n":1},{"a":0.7588,"b":0.789,"c":3.0135,"d":3.0889,"n":1},{"a":0.9403,"b":0.9705,"c":3.0135,"d":3.0889,"n":1},
      {"a":0.0025,"b":0.0328,"c":2.9382,"d":3.0135,"n":1},{"a":0.0328,"b":0.063,"c":2.9382,"d":3.0135,"n":3},{"a":0.063,"b":0.0933,"c":2.9382,"d":3.0135,"n":6},{"a":0.0933,"b":0.1235,"c":2.9382,"d":3.0135,"n":15},{"a":0.1235,"b":0.1538,"c":2.9382,"d":3.0135,"n":20},{"a":0.1538,"b":0.184,"c":2.9382,"d":3.0135,"n":20},{"a":0.184,"b":0.2143,"c":2.9382,"d":3.0135,"n":15},{"a":0.2143,"b":0.2445,"c":2.9382,"d":3.0135,"n":12},{"a":0.2445,"b":0.2748,"c":2.9382,"d":3.0135,"n":10},{"a":0.2748,"b":0.305,"c":2.9382,"d":3.0135,"n":8},{"a":0.305,"b":0.3353,"c":2.9382,"d":3.0135,"n":7},{"a":0.3353,"b":0.3655,"c":2.9382,"d":3.0135,"n":6},{"a":0.3655,"b":0.3958,"c":2.9382,"d":3.0135,"n":5},{"a":0.3958,"b":0.426,"c":2.9382,"d":3.0135,"n":4},{"a":0.426,"b":0.4563,"c":2.9382,"d":3.0135,"n":3},{"a":0.4563,"b":0.4865,"c":2.9382,"d":3.0135,"n":3},{"a":0.4865,"b":0.5168,"c":2.9382,"d":3.0135,"n":2},{"a":0.5773,"b":0.6075,"c":2.9382,"d":3.0135,"n":1},{"a":0.668,"b":0.6983,"c":2.9382,"d":3.0135,"n":1},{"a":0.8495,"b":0.8798,"c":2.9382,"d":3.0135,"n":1},
      {"a":0.0025,"b":0.0328,"c":2.8628,"d":2.9382,"n":2},{"a":0.0328,"b":0.063,"c":2.8628,"d":2.9382,"n":3},{"a":0.063,"b":0.0933,"c":2.8628,"d":2.9382,"n":8},{"a":0.0933,"b":0.1235,"c":2.8628,"d":2.9382,"n":20},{"a":0.1235,"b":0.1538,"c":2.8628,"d":2.9382,"n":25},{"a":0.1538,"b":0.184,"c":2.8628,"d":2.9382,"n":25},{"a":0.184,"b":0.2143,"c":2.8628,"d":2.9382,"n":20},{"a":0.2143,"b":0.2445,"c":2.8628,"d":2.9382,"n":15},{"a":0.2445,"b":0.2748,"c":2.8628,"d":2.9382,"n":12},{"a":0.2748,"b":0.305,"c":2.8628,"d":2.9382,"n":5},{"a":0.305,"b":0.3353,"c":2.8628,"d":2.9382,"n":6},{"a":0.3353,"b":0.3655,"c":2.8628,"d":2.9382,"n":3},{"a":0.3655,"b":0.3958,"c":2.8628,"d":2.9382,"n":1},{"a":0.3958,"b":0.426,"c":2.8628,"d":2.9382,"n":4},{"a":0.426,"b":0.4563,"c":2.8628,"d":2.9382,"n":1},{"a":0.4563,"b":0.4865,"c":2.8628,"d":2.9382,"n":3},{"a":0.5168,"b":0.547,"c":2.8628,"d":2.9382,"n":1},{"a":0.547,"b":0.5773,"c":2.8628,"d":2.9382,"n":1},{"a":0.6075,"b":0.6378,"c":2.8628,"d":2.9382,"n":1},{"a":0.6983,"b":0.7285,"c":2.8628,"d":2.9382,"n":1},{"a":0.7285,"b":0.7588,"c":2.8628,"d":2.9382,"n":1},
      {"a":0.0025,"b":0.0328,"c":2.7875,"d":2.8628,"n":2},{"a":0.0328,"b":0.063,"c":2.7875,"d":2.8628,"n":4},{"a":0.063,"b":0.0933,"c":2.7875,"d":2.8628,"n":5},{"a":0.0933,"b":0.1235,"c":2.7875,"d":2.8628,"n":25},{"a":0.1235,"b":0.1538,"c":2.7875,"d":2.8628,"n":30},{"a":0.1538,"b":0.184,"c":2.7875,"d":2.8628,"n":30},{"a":0.184,"b":0.2143,"c":2.7875,"d":2.8628,"n":15},{"a":0.2143,"b":0.2445,"c":2.7875,"d":2.8628,"n":12},{"a":0.2445,"b":0.2748,"c":2.7875,"d":2.8628,"n":6},{"a":0.2748,"b":0.305,"c":2.7875,"d":2.8628,"n":4},{"a":0.305,"b":0.3353,"c":2.7875,"d":2.8628,"n":15},{"a":0.3353,"b":0.3655,"c":2.7875,"d":2.8628,"n":4},{"a":0.3655,"b":0.3958,"c":2.7875,"d":2.8628,"n":4},{"a":0.3958,"b":0.426,"c":2.7875,"d":2.8628,"n":1},{"a":0.426,"b":0.4563,"c":2.7875,"d":2.8628,"n":8},{"a":0.4563,"b":0.4865,"c":2.7875,"d":2.8628,"n":4},
      {"a":0.0025,"b":0.0328,"c":2.7121,"d":2.7875,"n":1},{"a":0.0328,"b":0.063,"c":2.7121,"d":2.7875,"n":1},{"a":0.063,"b":0.0933,"c":2.7121,"d":2.7875,"n":5},{"a":0.0933,"b":0.1235,"c":2.7121,"d":2.7875,"n":10},{"a":0.1235,"b":0.1538,"c":2.7121,"d":2.7875,"n":12},{"a":0.1538,"b":0.184,"c":2.7121,"d":2.7875,"n":10},{"a":0.184,"b":0.2143,"c":2.7121,"d":2.7875,"n":10},{"a":0.2143,"b":0.2445,"c":2.7121,"d":2.7875,"n":6},{"a":0.2445,"b":0.2748,"c":2.7121,"d":2.7875,"n":5},{"a":0.2748,"b":0.305,"c":2.7121,"d":2.7875,"n":1},{"a":0.305,"b":0.3353,"c":2.7121,"d":2.7875,"n":4},{"a":0.3353,"b":0.3655,"c":2.7121,"d":2.7875,"n":4},{"a":0.3655,"b":0.3958,"c":2.7121,"d":2.7875,"n":4},{"a":0.3958,"b":0.426,"c":2.7121,"d":2.7875,"n":4},{"a":0.426,"b":0.4563,"c":2.7121,"d":2.7875,"n":4},{"a":0.4563,"b":0.4865,"c":2.7121,"d":2.7875,"n":1},{"a":0.547,"b":0.5773,"c":2.7121,"d":2.7875,"n":1},{"a":0.6075,"b":0.6378,"c":2.7121,"d":2.7875,"n":1},{"a":0.7285,"b":0.7588,"c":2.7121,"d":2.7875,"n":1},{"a":0.7588,"b":0.789,"c":2.7121,"d":2.7875,"n":1},
      {"a":0.063,"b":0.0933,"c":2.6368,"d":2.7121,"n":1},{"a":0.0933,"b":0.1235,"c":2.6368,"d":2.7121,"n":8},{"a":0.1235,"b":0.1538,"c":2.6368,"d":2.7121,"n":10},{"a":0.1538,"b":0.184,"c":2.6368,"d":2.7121,"n":8},{"a":0.184,"b":0.2143,"c":2.6368,"d":2.7121,"n":5},{"a":0.2445,"b":0.2748,"c":2.6368,"d":2.7121,"n":4},{"a":0.2748,"b":0.305,"c":2.6368,"d":2.7121,"n":1},{"a":0.305,"b":0.3353,"c":2.6368,"d":2.7121,"n":1},{"a":0.3353,"b":0.3655,"c":2.6368,"d":2.7121,"n":3},{"a":0.6075,"b":0.6378,"c":2.6368,"d":2.7121,"n":1},{"a":0.7588,"b":0.789,"c":2.6368,"d":2.7121,"n":1},
      {"a":0.0025,"b":0.0328,"c":2.5614,"d":2.6368,"n":1},{"a":0.0328,"b":0.063,"c":2.5614,"d":2.6368,"n":1},{"a":0.063,"b":0.0933,"c":2.5614,"d":2.6368,"n":4},{"a":0.0933,"b":0.1235,"c":2.5614,"d":2.6368,"n":5},{"a":0.1235,"b":0.1538,"c":2.5614,"d":2.6368,"n":5},{"a":0.1538,"b":0.184,"c":2.5614,"d":2.6368,"n":4},{"a":0.184,"b":0.2143,"c":2.5614,"d":2.6368,"n":4},{"a":0.2143,"b":0.2445,"c":2.5614,"d":2.6368,"n":3},{"a":0.2445,"b":0.2748,"c":2.5614,"d":2.6368,"n":2},{"a":0.2748,"b":0.305,"c":2.5614,"d":2.6368,"n":2},{"a":0.305,"b":0.3353,"c":2.5614,"d":2.6368,"n":4},{"a":0.3353,"b":0.3655,"c":2.5614,"d":2.6368,"n":3},{"a":0.3655,"b":0.3958,"c":2.5614,"d":2.6368,"n":3},{"a":0.3958,"b":0.426,"c":2.5614,"d":2.6368,"n":1},{"a":0.426,"b":0.4563,"c":2.5614,"d":2.6368,"n":1},{"a":0.5773,"b":0.6075,"c":2.5614,"d":2.6368,"n":1},
      {"a":0.0328,"b":0.063,"c":2.4861,"d":2.5614,"n":2},{"a":0.063,"b":0.0933,"c":2.4861,"d":2.5614,"n":4},{"a":0.0933,"b":0.1235,"c":2.4861,"d":2.5614,"n":4},{"a":0.1235,"b":0.1538,"c":2.4861,"d":2.5614,"n":4},{"a":0.1538,"b":0.184,"c":2.4861,"d":2.5614,"n":1},{"a":0.184,"b":0.2143,"c":2.4861,"d":2.5614,"n":3},{"a":0.2143,"b":0.2445,"c":2.4861,"d":2.5614,"n":1},
      {"a":0.0328,"b":0.063,"c":2.4107,"d":2.4861,"n":1},{"a":0.063,"b":0.0933,"c":2.4107,"d":2.4861,"n":4},{"a":0.0933,"b":0.1235,"c":2.4107,"d":2.4861,"n":8},{"a":0.1235,"b":0.1538,"c":2.4107,"d":2.4861,"n":10},{"a":0.1538,"b":0.184,"c":2.4107,"d":2.4861,"n":10},{"a":0.184,"b":0.2143,"c":2.4107,"d":2.4861,"n":4},{"a":0.2143,"b":0.2445,"c":2.4107,"d":2.4861,"n":3},{"a":0.2445,"b":0.2748,"c":2.4107,"d":2.4861,"n":4},{"a":0.2748,"b":0.305,"c":2.4107,"d":2.4861,"n":1},{"a":0.305,"b":0.3353,"c":2.4107,"d":2.4861,"n":1},{"a":0.3655,"b":0.3958,"c":2.4107,"d":2.4861,"n":2},{"a":0.426,"b":0.4563,"c":2.4107,"d":2.4861,"n":1},
      {"a":0.0025,"b":0.0328,"c":2.3354,"d":2.4107,"n":2},{"a":0.063,"b":0.0933,"c":2.3354,"d":2.4107,"n":4},{"a":0.0933,"b":0.1235,"c":2.3354,"d":2.4107,"n":4},{"a":0.1235,"b":0.1538,"c":2.3354,"d":2.4107,"n":5},{"a":0.1538,"b":0.184,"c":2.3354,"d":2.4107,"n":2},{"a":0.184,"b":0.2143,"c":2.3354,"d":2.4107,"n":4},{"a":0.2143,"b":0.2445,"c":2.3354,"d":2.4107,"n":3},
      {"a":0.0328,"b":0.063,"c":2.26,"d":2.3354,"n":1},{"a":0.063,"b":0.0933,"c":2.26,"d":2.3354,"n":1},{"a":0.0933,"b":0.1235,"c":2.26,"d":2.3354,"n":3},{"a":0.1235,"b":0.1538,"c":2.26,"d":2.3354,"n":2},{"a":0.1538,"b":0.184,"c":2.26,"d":2.3354,"n":1},{"a":0.2143,"b":0.2445,"c":2.26,"d":2.3354,"n":2},
      {"a":1.273,"b":1.3033,"c":3.767,"d":3.8424,"n":1}
    ]
  },
  "resolve": {"axis": {"x": "independent", "y": "independent"}},
  "layer": [
    {
      "data": {"name": "cells"},
      "mark": {"type": "rect", "clip": true},
      "encoding": {
        "x": {"field": "a", "type": "quantitative", "scale": {"domain": [0, 1.5], "nice": false, "zero": false},
          "axis": {"orient": "bottom", "values": [0, 0.5, 1, 1.5], "format": ".1f", "labelFontSize": 37, "labelPadding": 28, "labelFlush": false, "labelOverlap": false, "tickSize": -20, "tickWidth": 3, "domain": true, "domainWidth": 3.5, "domainCap": "square", "title": "E", "titleFontSize": 64, "titleFontStyle": "italic", "titleAlign": "left", "titleBaseline": "alphabetic", "titleX": 302, "titleY": 108}},
        "x2": {"field": "b"},
        "y": {"field": "c", "type": "quantitative", "scale": {"domain": [2.26, 5.5], "nice": false, "zero": false},
          "axis": {"orient": "left", "values": [3, 4, 5], "format": "d", "labelFontSize": 37, "labelPadding": 31, "labelFlush": false, "labelOverlap": false, "tickSize": -20, "tickWidth": 3, "domain": true, "domainWidth": 3.5, "domainCap": "square", "title": "R", "titleFontSize": 62, "titleFontStyle": "italic", "titleAngle": -90, "titleAlign": "left", "titleBaseline": "alphabetic", "titleX": -55, "titleY": 374}},
        "y2": {"field": "d"},
        "color": {"field": "n", "type": "quantitative",
          "scale": {"type": "log", "domain": [1, 1.565, 2.449, 3.834, 6, 9.39, 14.7, 23, 36], "range": ["#b5c1d3", "#b5cbe1", "#bcd4e9", "#c6deee", "#d3e7f3", "#e2eff6", "#eef4fa", "#f5f9fd", "#fdfeff"]},
          "legend": {"orient": "none", "legendX": 919, "legendY": 0, "direction": "vertical", "gradientLength": 620, "gradientThickness": 24, "gradientStrokeColor": "#222222", "gradientStrokeWidth": 1.2, "values": [1, 10], "format": ".1f", "labelFontSize": 37, "labelOffset": 10, "labelColor": "black", "labelOverlap": false, "labelBaseline": "middle", "title": "N", "titleOrient": "right", "titleAnchor": "middle", "titleFontSize": 62, "titleFontWeight": "normal", "titlePadding": 30, "padding": 0,
            "encode": {"labels": {"update": {"baseline": {"value": "middle"}}}}}}
      }
    },
    {
      "data": {"name": "med"},
      "mark": {"type": "area", "fill": "#4682b4", "fillOpacity": 0.3, "stroke": "#4682b4", "strokeOpacity": 0.45, "strokeWidth": 1.3},
      "encoding": {
        "x": {"field": "x", "type": "quantitative", "scale": {"domain": [0, 1.5], "nice": false, "zero": false},
          "axis": {"orient": "bottom", "values": [0.1, 0.2, 0.3, 0.4, 0.6, 0.7, 0.8, 0.9, 1.1, 1.2, 1.3, 1.4], "labels": false, "tickSize": -10, "tickWidth": 2, "domain": false, "title": "B,V", "titleFontSize": 38, "titleFontStyle": "italic", "titleAlign": "left", "titleBaseline": "alphabetic", "titleX": 340, "titleY": 119}},
        "y": {"field": "lo", "type": "quantitative", "scale": {"domain": [2.26, 5.5], "nice": false, "zero": false},
          "axis": {"orient": "left", "values": [2.4, 2.6, 2.8, 3.2, 3.4, 3.6, 3.8, 4.2, 4.4, 4.6, 4.8, 5.2, 5.4], "labels": false, "tickSize": -10, "tickWidth": 2, "domain": false, "title": "V", "titleFontSize": 44, "titleFontStyle": "italic", "titleAngle": -90, "titleAlign": "left", "titleBaseline": "alphabetic", "titleX": -43, "titleY": 326}},
        "y2": {"field": "hi"}
      }
    },
    {
      "data": {"values": [
        {"x": 0.3, "ref": "this work"},
        {"x": 0.1, "ref": "Butler & Salim (2024)"},
        {"x": 0.5, "ref": "Schlafly et al. (2016)"}
      ]},
      "mark": {"type": "rule", "strokeWidth": 1.6},
      "encoding": {
        "x": {"field": "x", "type": "quantitative", "scale": {"domain": [0, 1.5], "nice": false, "zero": false},
          "axis": {"orient": "bottom", "ticks": false, "labels": false, "domain": false, "title": "(mag)", "titleFontSize": 64, "titleAlign": "left", "titleBaseline": "alphabetic", "titleX": 403, "titleY": 108}},
        "stroke": {"field": "ref", "type": "nominal",
          "scale": {"domain": ["this work", "Butler & Salim (2024)", "Schlafly et al. (2016)"], "range": ["#000000", "#6e6e6e", "#9a9a9a"]},
          "legend": {"orient": "none", "legendX": 450, "legendY": 56, "title": null, "labelFontSize": 30, "symbolType": "stroke", "symbolSize": 4225, "symbolStrokeWidth": 1.6, "labelOffset": 20, "rowPadding": 0, "padding": 0, "labelLimit": 600}},
        "strokeDash": {"field": "ref", "type": "nominal",
          "scale": {"domain": ["this work", "Butler & Salim (2024)", "Schlafly et al. (2016)"], "range": [[1, 0], [6, 3], [2, 3]]},
          "legend": {"orient": "none", "legendX": 450, "legendY": 56, "title": null, "labelFontSize": 30, "symbolType": "stroke", "symbolSize": 4225, "symbolStrokeWidth": 1.6, "labelOffset": 20, "rowPadding": 0, "padding": 0, "labelLimit": 600}}
      }
    },
    {
      "data": {"name": "med"},
      "mark": {"type": "line", "stroke": "#4682b4", "strokeOpacity": 0.4, "strokeWidth": 2},
      "encoding": {
        "x": {"field": "x", "type": "quantitative", "scale": {"domain": [0, 1.5], "nice": false, "zero": false},
          "axis": {"orient": "top", "values": [0, 0.5, 1, 1.5], "labels": false, "tickSize": -20, "tickWidth": 3, "domain": true, "domainWidth": 3.5, "domainCap": "square", "title": null}},
        "y": {"field": "med", "type": "quantitative", "scale": {"domain": [2.26, 5.5], "nice": false, "zero": false},
          "axis": {"orient": "right", "values": [3, 4, 5], "labels": false, "tickSize": -20, "tickWidth": 3, "domain": true, "domainWidth": 3.5, "domainCap": "square", "title": null}}
      }
    },
    {
      "data": {"name": "med"},
      "mark": {"type": "point", "filled": true, "color": "#0000ff", "opacity": 1, "size": 1300, "clip": true},
      "encoding": {
        "x": {"field": "x", "type": "quantitative", "scale": {"domain": [0, 1.5], "nice": false, "zero": false},
          "axis": {"orient": "top", "values": [0.1, 0.2, 0.3, 0.4, 0.6, 0.7, 0.8, 0.9, 1.1, 1.2, 1.3, 1.4], "labels": false, "tickSize": -10, "tickWidth": 2, "domain": false, "title": null}},
        "y": {"field": "med", "type": "quantitative", "scale": {"domain": [2.26, 5.5], "nice": false, "zero": false},
          "axis": {"orient": "right", "values": [2.4, 2.6, 2.8, 3.2, 3.4, 3.6, 3.8, 4.2, 4.4, 4.6, 4.8, 5.2, 5.4], "labels": false, "tickSize": -10, "tickWidth": 2, "domain": false, "title": null}},
        "shape": {"datum": "Median Rᵥ",
          "scale": {"range": ["M0,-1L0.2245,-0.309L0.9511,-0.309L0.3633,0.118L0.5878,0.809L0,0.382L-0.5878,0.809L-0.3633,0.118L-0.9511,-0.309L-0.2245,-0.309Z"]},
          "legend": {"orient": "none", "legendX": 461, "legendY": 27, "title": null, "labelFontSize": 30, "symbolSize": 1300, "symbolFillColor": "#0000ff", "symbolStrokeWidth": 0, "labelOffset": 37, "padding": 0}}
      }
    }
  ]
}
